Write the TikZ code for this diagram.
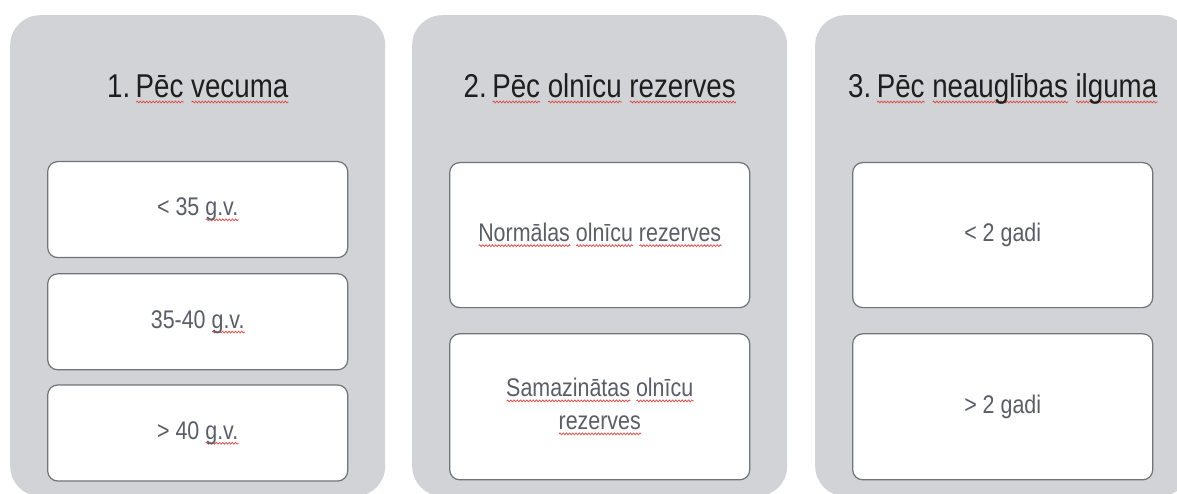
\documentclass[tikz,border=0pt]{standalone}
\usepackage{fontspec}
\setmainfont{Liberation Sans}[FakeStretch=0.84]
\usetikzlibrary{positioning,decorations.pathmorphing}

\definecolor{panelgray}{HTML}{D1D3D6}
\definecolor{cellborder}{HTML}{707378}
\definecolor{titlegray}{HTML}{1E1E1E}
\definecolor{cellgray}{HTML}{5A5E66}
\definecolor{spellred}{HTML}{D9534F}

% red wavy underline, one word at a time
\newsavebox\spellbox
\newlength\spellwd
\newcommand\spell[1]{\sbox\spellbox{#1}\setlength\spellwd{\wd\spellbox}%
 \rlap{\tikz[baseline=0pt]\draw[spellred, line width=0.8pt, fill=none, rounded corners=0pt,
   decorate, decoration={snake, amplitude=0.9pt, segment length=3.2pt}] (0pt,-4pt) -- (\spellwd,-4pt);}%
 \usebox\spellbox}

\begin{document}
\begin{tikzpicture}
 [x=1pt, y=-1pt,
  panel node/.style={rounded corners=30pt, fill=panelgray, minimum width=375pt, minimum height=481pt, anchor=north west, inner sep=0pt},
  title node/.style={anchor=base, text=titlegray, font=\fontsize{33}{38}\selectfont},
  cell node/.style={rounded corners=10pt, draw=cellborder, line width=1.2pt, fill=white, minimum width=300pt, inner sep=0pt, align=center, text=cellgray, font=\fontsize{25.5}{33}\selectfont}]

 \fill[white] (0,0) rectangle (1177,494);
 \useasboundingbox (0,0) rectangle (1177,494);

 \node[panel node] (p1) at (10,15) {};
 \node[panel node] (p2) at (412,15) {};
 \node[panel node] (p3) at (815,15) {};

 \node[title node] (t1) at ([yshift=-83pt]p1.north) {1.\,\spell{Pēc} \spell{vecuma}};
 \node[title node] (t2) at ([yshift=-83pt]p2.north) {2.\,\spell{Pēc} \spell{olnīcu} \spell{rezerves}};
 \node[title node] (t3) at ([yshift=-83pt]p3.north) {3.\,\spell{Pēc} \spell{neauglības} \spell{ilguma}};

 % 1. column
 \node[cell node, minimum height=96pt, below=146pt of p1.north] (a1) {< 35 \spell{g.v.}};
 \node[cell node, minimum height=96pt, below=15pt of a1] (a2) {35-40 \spell{g.v.}};
 \node[cell node, minimum height=96pt, below=14pt of a2] (a3) {> 40 \spell{g.v.}};

 % 2. column
 \node[cell node, minimum height=145pt, below=147pt of p2.north] (b1) {\spell{Normālas} \spell{olnīcu} \spell{rezerves}};
 \node[cell node, minimum height=146pt, below=25pt of b1] (b2) {\spell{Samazinātas} \spell{olnīcu}\\\spell{rezerves}};

 % 3. column
 \node[cell node, minimum height=145pt, below=147pt of p3.north] (c1) {< 2 gadi};
 \node[cell node, minimum height=146pt, below=25pt of c1] (c2) {> 2 gadi};

\end{tikzpicture}
\end{document}
